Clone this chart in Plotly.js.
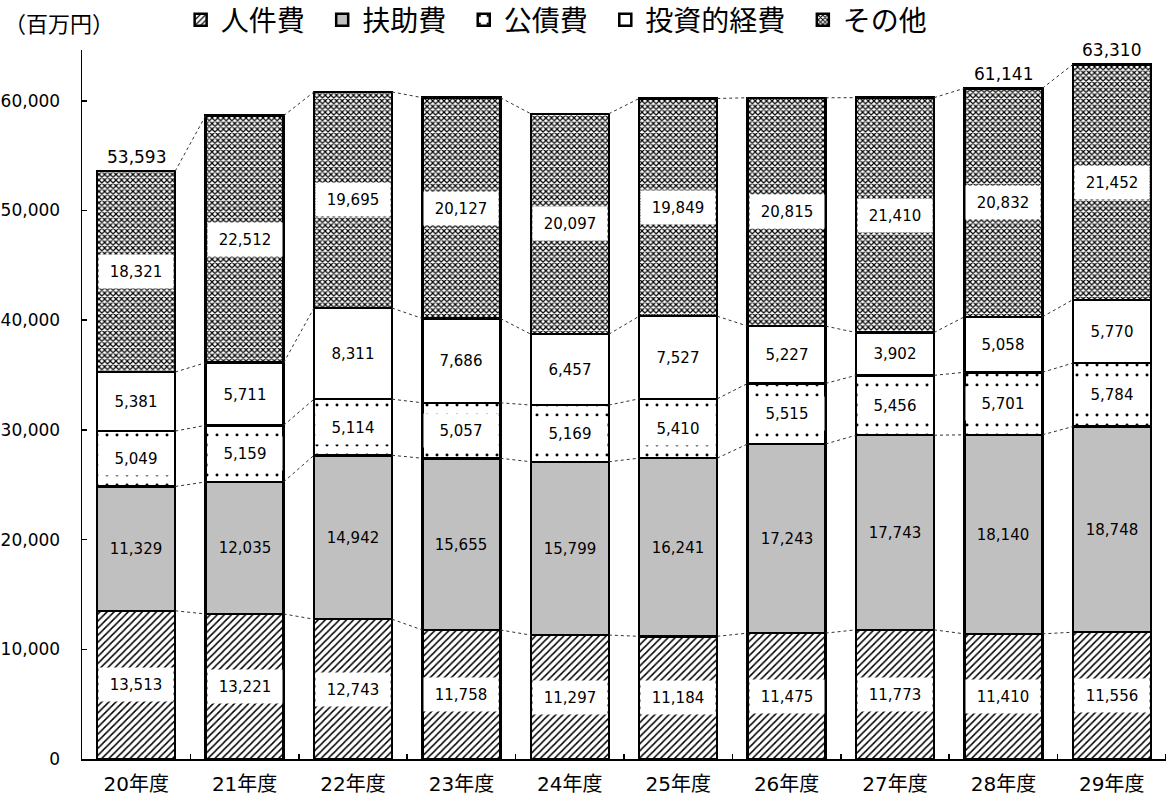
<!DOCTYPE html>
<html>
<head>
<meta charset="utf-8">
<script src="https://cdn.plot.ly/plotly-3.0.1.min.js"></script>
<style>html,body{margin:0;padding:0;background:#fff;}#chart{width:1166px;height:803px;}</style>
</head>
<body>
<div id="chart"></div>
<script>
const categories = ["20年度","21年度","22年度","23年度","24年度","25年度","26年度","27年度","28年度","29年度"];
const seriesNames = ["人件費","扶助費","公債費","投資的経費","その他"];
const jinkenhi = [13513,13221,12743,11758,11297,11184,11475,11773,11410,11556];
const fujohi   = [11329,12035,14942,15655,15799,16241,17243,17743,18140,18748];
const kosaihi  = [5049,5159,5114,5057,5169,5410,5515,5456,5701,5784];
const toshi    = [5381,5711,8311,7686,6457,7527,5227,3902,5058,5770];
const sonota   = [18321,22512,19695,20127,20097,19849,20815,21410,20832,21452];
const totals   = [53593,null,null,null,null,null,null,null,61141,63310];
const yTicks   = [0,10000,20000,30000,40000,50000,60000];

const series = [jinkenhi, fujohi, kosaihi, toshi, sonota];
const FONT = '"DejaVu Sans", "Noto Sans CJK JP", sans-serif';
const CJK = '"Noto Sans CJK JP", "DejaVu Sans", sans-serif';
const BW = 0.72;
const xs = categories.map((_, i) => i);

const patterns = [
  {shape:'/', bgcolor:'#ffffff', fgcolor:'#000000', size:5, solidity:0.3, fillmode:'replace'},
  {shape:''},
  {shape:'.', bgcolor:'#ffffff', fgcolor:'#000000', size:10, solidity:0.07, fillmode:'replace'},
  {shape:''},
  {shape:'x', bgcolor:'#ffffff', fgcolor:'#000000', size:4, solidity:0.5, fillmode:'replace'}
];
const colors = ['#ffffff','#c0c0c0','#ffffff','#ffffff','#ffffff'];
const boxed = [true,false,true,false,true];

const traces = [];
series.forEach((vals, k) => {
  traces.push({
    type:'bar', name: seriesNames[k] + (k < series.length - 1 ? '\u00a0\u00a0' : ''), x: xs, y: vals, width: BW,
    marker:{color: colors[k], line:{color:'#000', width:2.5}, pattern: patterns[k]},
    hoverinfo:'none'
  });
});

const cum = [];
let run = xs.map(() => 0);
series.forEach(vals => {
  run = run.map((r, i) => r + vals[i]);
  cum.push(run.slice());
});

cum.forEach(level => {
  const lx = [], ly = [];
  for (let i = 0; i < xs.length - 1; i++) {
    lx.push(xs[i] + BW/2, xs[i+1] - BW/2, null);
    ly.push(level[i], level[i+1], null);
  }
  traces.push({type:'scatter', mode:'lines', x:lx, y:ly, showlegend:false, hoverinfo:'none',
    line:{color:'#333', width:1, dash:'dot'}});
});

const annotations = [];
series.forEach((vals, k) => {
  vals.forEach((v, i) => {
    const base = cum[k][i] - v;
    annotations.push({
      x: xs[i], y: base + v/2, xref:'x', yref:'y', showarrow:false,
      text: v.toLocaleString('en-US'),
      font:{family:FONT, size:15, color:'#000'},
      bgcolor: boxed[k] ? '#ffffff' : 'rgba(0,0,0,0)',
      width: 72, height: 31
    });
  });
});
totals.forEach((t, i) => {
  if (t === null) return;
  annotations.push({x: xs[i], y: t, xref:'x', yref:'y', yanchor:'bottom', yshift:2, showarrow:false,
    text: t.toLocaleString('en-US'), font:{family:FONT, size:17, color:'#000'}});
});
annotations.push({xref:'paper', yref:'paper', x:-0.021, y:1.039, xanchor:'center', yanchor:'middle',
  showarrow:false, text:'（百万円）', font:{family:CJK, size:22, color:'#000'}});

const layout = {
  width:1166, height:803,
  margin:{l:82, r:0, t:50, b:44, autoexpand:false},
  paper_bgcolor:'#ffffff', plot_bgcolor:'#ffffff',
  barmode:'stack',
  showlegend:true,
  legend:{orientation:'h', x:0.091, y:0.975, xref:'paper', yref:'container', xanchor:'left', yanchor:'middle', traceorder:'normal',
    font:{family:CJK, size:28, color:'#000'}, itemwidth:30, tracegroupgap:0},
  xaxis:{range:[-0.5, 9.5], tickvals: xs, ticktext: categories, ticks:'', showgrid:false,
    zeroline:false, showline:true, linecolor:'#000', linewidth:1.5, ticklabelstandoff:6,
    tickfont:{family:FONT, size:20, color:'#000'},
    minor:{tickvals: xs.map(i => i + 0.5), ticks:'inside', ticklen:5, tickcolor:'#000', tickwidth:1.5, showgrid:false}},
  yaxis:{range:[0, 64630], tickvals: yTicks, tickformat:',d', ticks:'inside', ticklen:5, tickcolor:'#000', tickwidth:1.5,
    showgrid:false, zeroline:false, showline:true, linecolor:'#000', linewidth:1.5, ticklabelstandoff:17,
    tickfont:{family:FONT, size:17, color:'#000'}},
  annotations: annotations
};

Plotly.newPlot('chart', traces, layout, {displayModeBar:false, staticPlot:true});
</script>
</body>
</html>
